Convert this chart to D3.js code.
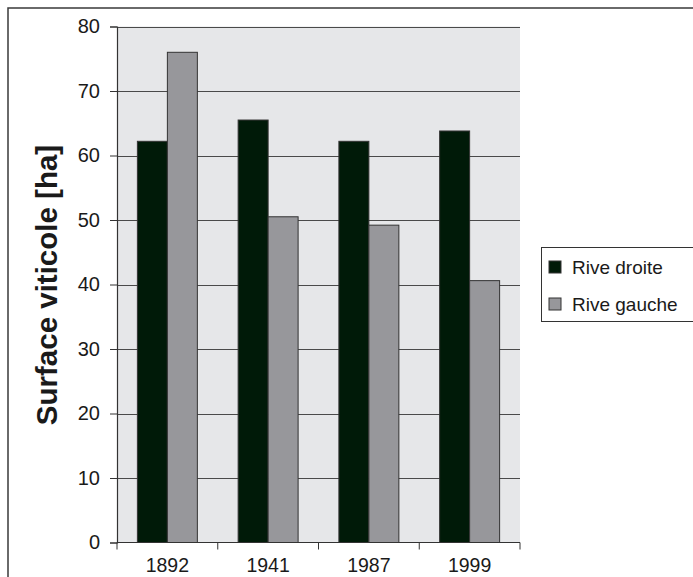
<!DOCTYPE html>
<html>
<head>
<meta charset="utf-8">
<script src="https://cdn.jsdelivr.net/npm/d3@7"></script>
<style>
  html, body { margin: 0; padding: 0; background: #fff; }
  svg { display: block; font-family: "Liberation Sans", Arial, sans-serif; }
</style>
</head>
<body>
<svg id="chart" width="693" height="577"></svg>
<script>
// Surface viticole par rive, en hectares
const years = ["1892", "1941", "1987", "1999"];
const seriesNames = ["Rive droite", "Rive gauche"];
const riveDroite = [62.2, 65.5, 62.2, 63.8];
const riveGauche = [76.0, 50.5, 49.2, 40.6];
const yTicks = [0, 10, 20, 30, 40, 50, 60, 70, 80];
const colors = ["#001a08", "#97979b"];

const svg = d3.select("#chart");
const plot = { left: 117, right: 520, top: 26.5, bottom: 542.5 };

const x = d3.scaleBand().domain(years).range([plot.left, plot.right]);
const xInner = d3.scaleBand().domain(seriesNames)
  .range([0, x.bandwidth()]).paddingInner(0).paddingOuter(0.68);
const y = d3.scaleLinear().domain([0, 80]).range([plot.bottom, plot.top]);

// outer frame
svg.append("path")
  .attr("d", `M8,577 L8,8 L693,8`)
  .attr("fill", "none").attr("stroke", "#3a3a3a").attr("stroke-width", 1.5);

// plot background
svg.append("rect")
  .attr("x", plot.left).attr("y", plot.top)
  .attr("width", plot.right - plot.left).attr("height", plot.bottom - plot.top)
  .attr("fill", "#e6e7e9");

// gridlines
svg.append("g").selectAll("line").data(yTicks.filter(d => d > 0)).join("line")
  .attr("x1", plot.left).attr("x2", plot.right)
  .attr("y1", d => Math.round(y(d)) + 0.5).attr("y2", d => Math.round(y(d)) + 0.5)
  .attr("stroke", "#4a4a4a").attr("stroke-width", 1.2);

// bars
const rows = years.map((yr, i) => ({ year: yr, values: [riveDroite[i], riveGauche[i]] }));
const groups = svg.append("g").selectAll("g").data(rows).join("g")
  .attr("transform", d => `translate(${x(d.year)},0)`);
groups.selectAll("rect")
  .data(d => d.values.map((v, k) => ({ name: seriesNames[k], value: v, k })))
  .join("rect")
  .attr("x", d => xInner(d.name))
  .attr("width", xInner.bandwidth())
  .attr("y", d => y(d.value))
  .attr("height", d => y(0) - y(d.value))
  .attr("fill", d => colors[d.k])
  .attr("stroke", "#333").attr("stroke-width", 1);

// y axis
const yAxis = d3.axisLeft(y).tickValues(yTicks).tickSize(7).tickPadding(10);
const gy = svg.append("g").attr("transform", `translate(${plot.left},0)`).call(yAxis);
gy.select(".domain").attr("stroke", "#333").attr("stroke-width", 1.2);
gy.selectAll(".tick line").attr("stroke", "#333");
gy.selectAll(".tick text").attr("font-size", 20).attr("fill", "#1a1a1a")
  .attr("font-family", "'Liberation Sans', Arial, sans-serif");

// x axis with ticks at category boundaries
const gx = svg.append("g").attr("transform", `translate(0,${plot.bottom})`);
gx.append("line").attr("x1", plot.left).attr("x2", plot.right)
  .attr("stroke", "#333").attr("stroke-width", 1.2);
const bounds = years.map(d => x(d)).concat([x(years[years.length - 1]) + x.bandwidth()]);
gx.selectAll("line.tk").data(bounds).join("line").attr("class", "tk")
  .attr("x1", d => d).attr("x2", d => d).attr("y1", 0).attr("y2", 7)
  .attr("stroke", "#333");
gx.selectAll("text").data(years).join("text")
  .attr("x", d => x(d) + x.bandwidth() / 2)
  .attr("y", 29.5)
  .attr("text-anchor", "middle")
  .attr("font-size", 19.5).attr("fill", "#1a1a1a")
  .text(d => d);

// y axis title
svg.append("text")
  .attr("transform", "translate(57,285) rotate(-90)")
  .attr("text-anchor", "middle")
  .attr("font-size", 29.5).attr("font-weight", "bold").attr("fill", "#1a1a1a")
  .text("Surface viticole [ha]");

// legend
const lg = svg.append("g");
lg.append("rect").attr("x", 541.5).attr("y", 247.5).attr("width", 160).attr("height", 74)
  .attr("fill", "#fff").attr("stroke", "#333").attr("stroke-width", 1);
const items = lg.selectAll("g").data(seriesNames).join("g")
  .attr("transform", (d, i) => `translate(549,${261 + i * 37})`);
items.append("rect").attr("width", 12).attr("height", 12)
  .attr("fill", (d, i) => colors[i]).attr("stroke", "#333").attr("stroke-width", 1);
items.append("text").attr("x", 23).attr("y", 12.5)
  .attr("font-size", 19).attr("fill", "#1a1a1a").text(d => d);
</script>
</body>
</html>
